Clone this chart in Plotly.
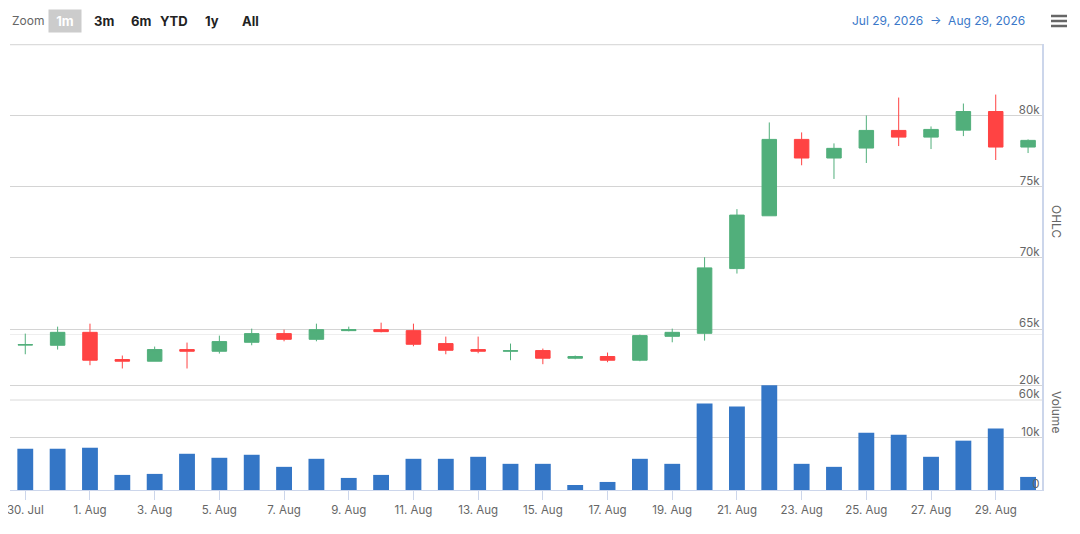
import plotly.graph_objects as go

# %% data
dates = [
    "2026-07-30", "2026-07-31", "2026-08-01", "2026-08-02", "2026-08-03", "2026-08-04",
    "2026-08-05", "2026-08-06", "2026-08-07", "2026-08-08", "2026-08-09", "2026-08-10",
    "2026-08-11", "2026-08-12", "2026-08-13", "2026-08-14", "2026-08-15", "2026-08-16",
    "2026-08-17", "2026-08-18", "2026-08-19", "2026-08-20", "2026-08-21", "2026-08-22",
    "2026-08-23", "2026-08-24", "2026-08-25", "2026-08-26", "2026-08-27", "2026-08-28",
    "2026-08-29", "2026-08-30",
]
opens = [
    63870, 63856, 64767, 62854, 62735, 63555, 63435, 64066, 64676, 64276, 64886, 64956,
    64886, 63975, 63555, 63440, 63484, 62945, 63064, 62805, 64486, 64697, 69251, 72965,
    78339, 77029, 77730, 78970, 78500, 78991, 80301, 77800,
]
highs = [
    64676, 65166, 65376, 63134, 63765, 64045, 64535, 65026, 64956, 65376, 65166, 65446,
    65376, 64466, 64466, 63975, 63625, 63134, 63344, 64605, 65026, 70050, 73434, 79531,
    78830, 78059, 80021, 81282, 79250, 80862, 81492, 78339,
]
lows = [
    63225, 63555, 62454, 62223, 62735, 62223, 63274, 63856, 64136, 64136, 64837, 64767,
    63786, 63225, 63295, 62805, 62525, 62875, 62665, 62735, 64066, 64185, 68901, 72965,
    76518, 75557, 76679, 77870, 77660, 78571, 76889, 77379,
]
closes = [
    63900, 64767, 62805, 62735, 63555, 63435, 64115, 64676, 64276, 64956, 64956, 64816,
    63926, 63505, 63435, 63470, 62945, 63064, 62805, 64535, 64767, 69300, 73014, 78339,
    77029, 77709, 78970, 78500, 79040, 80301, 77800, 78269,
]
volumes = [
    7930, 7930, 8123, 2900, 3095, 6963, 6190, 6770, 4450, 5995, 2320, 2900,
    5995, 5995, 6380, 5030, 5030, 967, 1547, 5995, 5030, 16630, 16050, 20114,
    5030, 4450, 11020, 10640, 6380, 9480, 11800, 2514,
]
ohlc_ticks = [60000, 65000, 70000, 75000, 80000, 85000]
ohlc_labels = ["60k", "65k", "70k", "75k", "80k", ""]
vol_ticks = [0, 10000, 20000, 30000]
vol_labels = ["0", "10k", "20k", ""]
zoom_buttons = ["1m", "3m", "6m", "YTD", "1y", "All"]

# %% styling
GREEN = "#51AF7B"
RED = "#FF4343"
BLUE = "#3476C6"
GRID = "#d4d4d4"
AXIS = "#ccd6eb"
FONT = "Inter"

# the page body has an 8px margin, so the figure is drawn 8px smaller
PAGE_OFF = 8
W, H = 1080 - PAGE_OFF, 534 - PAGE_OFF
PL, PR, PT, PB = 10, 1042, 44, 490  # plot rectangle in window pixels


def px_x(p):
    return (p - PL) / (PR - PL)


def px_y(p):
    return (PB - p) / (PB - PT)


# %%
fig = go.Figure()
fig.add_trace(go.Candlestick(
    x=dates, open=opens, high=highs, low=lows, close=closes,
    name="OHLC", yaxis="y", whiskerwidth=0,
    increasing=dict(line=dict(color=GREEN, width=1), fillcolor=GREEN),
    decreasing=dict(line=dict(color=RED, width=1), fillcolor=RED),
    showlegend=False,
))
fig.add_trace(go.Bar(
    x=dates, y=volumes, name="Volume", yaxis="y2",
    marker=dict(color=BLUE, line=dict(width=0)),
    width=0.49 * 86400000, showlegend=False,
))

fig.update_layout(
    width=W, height=H,
    margin=dict(l=PL - PAGE_OFF, r=1080 - PR, t=PT - PAGE_OFF, b=534 - PB),
    paper_bgcolor="white", plot_bgcolor="rgba(0,0,0,0)",
    font=dict(family=FONT, color="#666666", size=11),
    boxgap=0.36,
    xaxis=dict(
        type="date", range=["2026-07-29 12:40", "2026-08-30 10:20"],
        anchor="y2", tickformat="%-d. %b", tick0="2026-07-30", dtick=172800000,
        ticks="outside", ticklen=9, tickcolor=AXIS, showline=True, linecolor=AXIS,
        showgrid=False, zeroline=False, rangeslider=dict(visible=False),
        tickfont=dict(size=11.5, color="#666666"), automargin=False,
        ticklabeloverflow="allow",
    ),
    yaxis=dict(
        domain=[0.2, 1], side="right", anchor="x", range=[59950, 85050],
        tickvals=ohlc_ticks, ticktext=ohlc_labels, ticklabelposition="inside",
        ticklabelshift=-6, ticklabelstandoff=2, ticklabeloverflow="allow",
        showgrid=True, gridcolor=GRID, zeroline=False,
        showline=True, linecolor=AXIS, linewidth=1.5,
        tickfont=dict(size=11.5, color="#666666"), automargin=False,
    ),
    yaxis2=dict(
        domain=[0, 0.35], side="right", anchor="x", range=[0, 30000],
        tickvals=vol_ticks, ticktext=vol_labels, ticklabelposition="inside",
        ticklabelshift=-6, ticklabelstandoff=2, ticklabeloverflow="allow",
        showgrid=True, gridcolor=GRID, zeroline=False,
        showline=True, linecolor=AXIS, linewidth=1.5,
        tickfont=dict(size=11.5, color="#666666"), automargin=False,
    ),
)

# plotly drops gridlines sitting on the ends of an axis, so put those back
for axis_ref, val in [("y", ohlc_ticks[0]), ("y", ohlc_ticks[-1]), ("y2", vol_ticks[-1])]:
    fig.add_shape(type="line", xref="x domain", yref=axis_ref, x0=0, x1=1, y0=val, y1=val,
                  line=dict(color=GRID, width=1), layer="below")

# axis titles
fig.add_annotation(text="OHLC", xref="paper", yref="paper", x=px_x(1057), y=px_y(222),
                   xanchor="center", yanchor="middle", textangle=90, showarrow=False,
                   font=dict(size=12, color="#666666"))
fig.add_annotation(text="Volume", xref="paper", yref="paper", x=px_x(1057), y=px_y(412),
                   xanchor="center", yanchor="middle", textangle=90, showarrow=False,
                   font=dict(size=12, color="#666666"))

# range selector look-alike
fig.add_annotation(text="Zoom", xref="paper", yref="paper", x=px_x(10), y=px_y(21),
                   xanchor="left", yanchor="middle", showarrow=False,
                   font=dict(size=12, color="#666666"))
button_x = [65, 104, 141, 174, 212, 250]
for label, bx in zip(zoom_buttons, button_x):
    active = label == "1m"
    fig.add_annotation(
        text="<b>%s</b>" % label, xref="paper", yref="paper", x=px_x(bx), y=px_y(21),
        xanchor="center", yanchor="middle", showarrow=False,
        font=dict(size=13, color="#ffffff" if active else "#222222"),
        bgcolor="#cccccc" if active else None, borderpad=3, width=26 if active else None,
    )
fig.add_annotation(text="Jul 29, 2026  \u2192  Aug 29, 2026", xref="paper", yref="paper",
                   x=px_x(1027), y=px_y(21), xanchor="right", yanchor="middle",
                   showarrow=False, font=dict(size=12, color="#3a78c9"))

# export menu icon
for yy in [16, 21, 26]:
    fig.add_shape(type="line", xref="paper", yref="paper",
                  x0=px_x(1051), x1=px_x(1067), y0=px_y(yy), y1=px_y(yy),
                  line=dict(color="#666666", width=2.5))

fig.write_html("out.html")
